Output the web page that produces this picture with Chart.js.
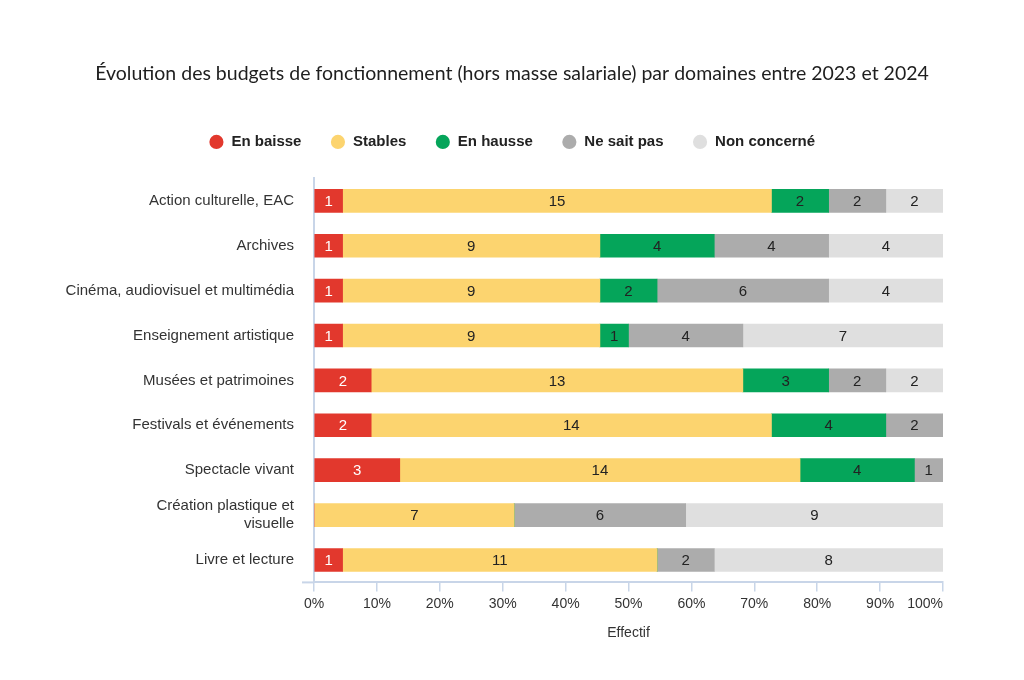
<!DOCTYPE html>
<html><head><meta charset="utf-8">
<script src="https://cdn.jsdelivr.net/npm/chart.js@4.4.1/dist/chart.umd.min.js"></script>
<style>html,body{margin:0;padding:0;background:#fff}#wrap{width:1024px;height:680px}</style>
</head><body><div id="wrap"><canvas id="c" width="1024" height="680"></canvas></div>
<script>
const titleText = "Évolution des budgets de fonctionnement (hors masse salariale) par domaines entre 2023 et 2024";
const categories = ["Action culturelle, EAC", "Archives", "Cinéma, audiovisuel et multimédia", "Enseignement artistique", "Musées et patrimoines", "Festivals et événements", "Spectacle vivant", ["Création plastique et", "visuelle"], "Livre et lecture"];
const seriesNames = ["En baisse", "Stables", "En hausse", "Ne sait pas", "Non concerné"];
const enBaisse    = [1, 1, 1, 1, 2, 2, 3, 0, 1];
const stables     = [15, 9, 9, 9, 13, 14, 14, 7, 11];
const enHausse    = [2, 4, 2, 1, 3, 4, 4, 0, 0];
const neSaitPas   = [2, 4, 6, 4, 2, 2, 1, 6, 2];
const nonConcerne = [2, 4, 4, 7, 2, 0, 0, 9, 8];
const xTickValues = [0, 10, 20, 30, 40, 50, 60, 70, 80, 90, 100];
const xAxisTitle = "Effectif";

const seriesCounts = [enBaisse, stables, enHausse, neSaitPas, nonConcerne];
const colors = ['#e2382d', '#fcd46f', '#05a55a', '#acacac', '#dfdfdf'];
const totals = categories.map((_, i) => seriesCounts.reduce((s, arr) => s + arr[i], 0));
const axisColor = '#c8d5e8';

Chart.defaults.font.family = '"Liberation Sans", Arial, sans-serif';
Chart.defaults.color = '#333';

const valueLabels = {
  id: 'valueLabels',
  afterDatasetsDraw(chart) {
    const ctx = chart.ctx;
    ctx.save();
    ctx.font = '15px "Liberation Sans", Arial, sans-serif';
    ctx.textAlign = 'center';
    ctx.textBaseline = 'middle';
    chart.data.datasets.forEach((ds, di) => {
      const meta = chart.getDatasetMeta(di);
      meta.data.forEach((el, i) => {
        const v = ds.counts[i];
        if (!v) return;
        ctx.fillStyle = di === 0 ? '#ffffff' : '#222222';
        ctx.fillText(String(v), (el.x + el.base) / 2, el.y + 1);
      });
    });
    ctx.restore();
  }
};

const axisExtension = {
  id: 'axisExtension',
  afterDraw(chart) {
    const {ctx, chartArea} = chart;
    ctx.save();
    ctx.strokeStyle = axisColor;
    ctx.lineWidth = 2;
    ctx.beginPath();
    ctx.moveTo(chartArea.left - 12, chartArea.bottom);
    ctx.lineTo(chartArea.left, chartArea.bottom);
    ctx.stroke();
    ctx.restore();
  }
};

const legendGap = {
  id: 'legendGap',
  afterInit(chart) {
    const lg = chart.legend;
    if (!lg) return;
    const orig = lg.fit;
    lg.fit = function () { orig.call(this); this.height += 19; };
  }
};

new Chart(document.getElementById('c'), {
  type: 'bar',
  data: {
    labels: categories,
    datasets: seriesNames.map((name, k) => ({
      label: name,
      counts: seriesCounts[k],
      data: seriesCounts[k].map((v, i) => v / totals[i] * 100),
      backgroundColor: colors[k],
      borderWidth: 0,
      barThickness: 23
    }))
  },
  options: {
    responsive: false,
    animation: false,
    indexAxis: 'y',
    layout: { padding: { left: 81, right: 81, top: 0, bottom: 34 } },
    plugins: {
      title: {
        display: true,
        text: titleText,
        color: '#1e1e1e',
        font: { family: 'Lato, "Open Sans", sans-serif', size: 19.5, weight: 'normal', lineHeight: 1.2 },
        padding: { top: 62, bottom: 20 }
      },
      legend: {
        position: 'top',
        labels: {
          usePointStyle: true,
          pointStyle: 'circle',
          boxWidth: 15,
          boxHeight: 10,
          padding: 29,
          color: '#222',
          font: { size: 15, weight: 'bold' }
        }
      },
      tooltip: { enabled: false }
    },
    scales: {
      x: {
        type: 'linear',
        stacked: true,
        min: 0,
        max: 100,
        afterBuildTicks: s => { s.ticks = xTickValues.map(v => ({ value: v })); },
        afterFit: s => {
          if (s._patchedLast) return;
          s._patchedLast = true;
          const orig = s._computeLabelItems;
          s._computeLabelItems = function (ca) {
            const items = orig.call(this, ca);
            const last = items[items.length - 1];
            if (last && last.options) last.options.textAlign = 'right';
            return items;
          };
        },
        ticks: { callback: v => v + '%', font: { size: 14 }, color: '#333', padding: 4, maxRotation: 0 },
        grid: { drawOnChartArea: false, drawTicks: true, tickLength: 9, color: axisColor, lineWidth: 1.5 },
        border: { display: true, color: axisColor, width: 2 },
        title: { display: true, text: xAxisTitle, font: { size: 14 }, color: '#333', padding: { top: 9, bottom: 4 } }
      },
      y: {
        stacked: true,
        afterFit: s => { s.width = 233; s._computeLabelArea = () => undefined; },
        ticks: { font: { size: 15 }, color: '#333', padding: 20 },
        grid: { drawOnChartArea: false, drawTicks: false },
        border: { display: true, color: axisColor, width: 2 }
      }
    }
  },
  plugins: [valueLabels, axisExtension, legendGap]
});
</script>
</body></html>
